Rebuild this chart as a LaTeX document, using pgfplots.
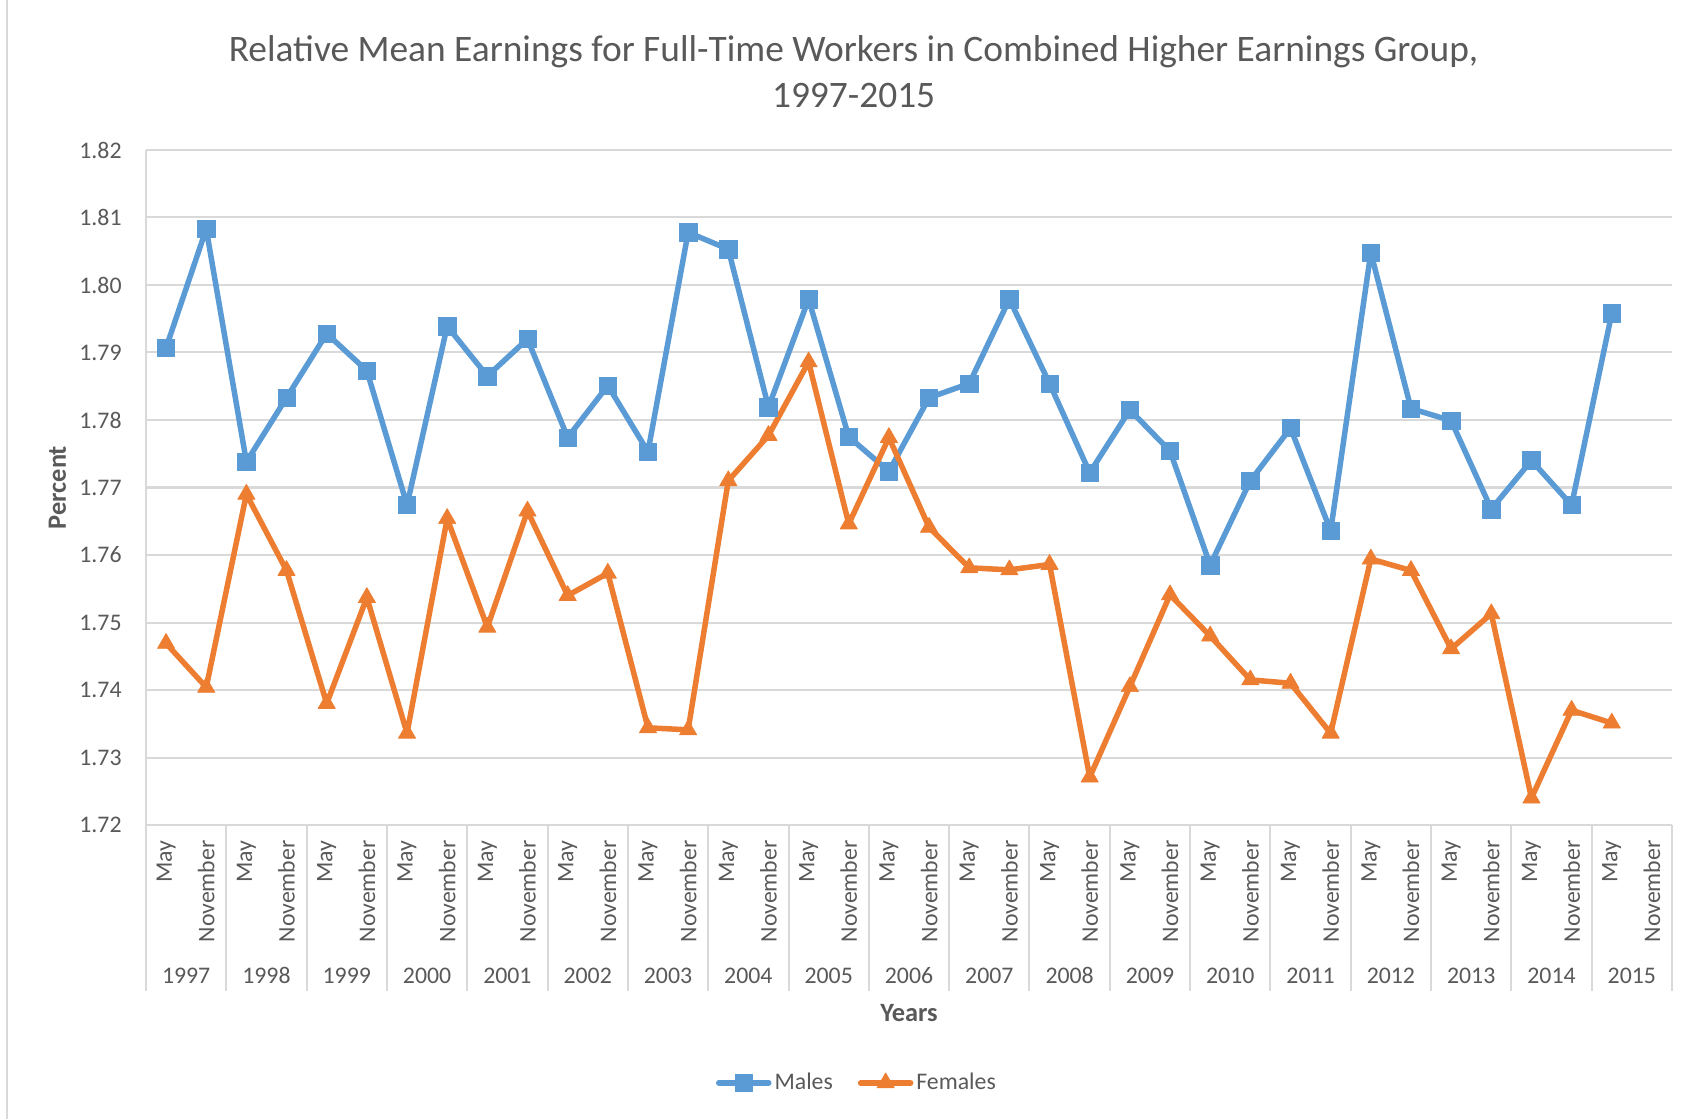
\documentclass[border=0pt]{standalone}
\usepackage{fontspec}
\setmainfont{Carlito}
\usepackage{graphicx}
\usepackage{pgfplots}
\usepackage{pgfplotstable}
\pgfplotsset{compat=1.18}
\definecolor{txt}{HTML}{595959}
\definecolor{grd}{HTML}{D9D9D9}
\definecolor{mblue}{HTML}{5B9BD5}
\definecolor{forange}{HTML}{ED7D31}

\pgfplotstableread{
x m f
0 1.7907 1.7469
1 1.8083 1.7404
2 1.7738 1.7690
3 1.7833 1.7577
4 1.7928 1.7380
5 1.7873 1.7537
6 1.7674 1.7336
7 1.7939 1.7654
8 1.7865 1.7493
9 1.7920 1.7665
10 1.7774 1.7540
11 1.7851 1.7573
12 1.7753 1.7344
13 1.8078 1.7341
14 1.8053 1.7710
15 1.7819 1.7777
16 1.7979 1.7886
17 1.7775 1.7646
18 1.7724 1.7774
19 1.7833 1.7641
20 1.7854 1.7581
21 1.7979 1.7578
22 1.7854 1.7586
23 1.7722 1.7271
24 1.7815 1.7405
25 1.7754 1.7541
26 1.7585 1.7480
27 1.7710 1.7415
28 1.7788 1.7410
29 1.7636 1.7336
30 1.8048 1.7594
31 1.7817 1.7577
32 1.7799 1.7461
33 1.7668 1.7513
34 1.7740 1.7240
35 1.7674 1.7370
36 1.7958 1.7351
}\data

\newcommand{\rl}[1]{\rotatebox{90}{#1}}

\begin{document}
\begin{tikzpicture}
\path[use as bounding box] (-73pt,-147pt) rectangle (774.5pt,412.5pt);
\begin{axis}[
  scale only axis, width=763pt, height=337.5pt,
  xmin=-0.5, xmax=37.5, ymin=1.72, ymax=1.82,
  axis x line*=bottom, axis y line*=left,
  axis line style={grd, line width=1pt},
  tick align=outside,
  major tick length=0pt,
  minor tick length=83pt,
  minor tick style={grd, line width=1pt},
  ytick={1.72,1.73,1.74,1.75,1.76,1.77,1.78,1.79,1.80,1.81,1.82},
  yticklabel style={/pgf/number format/.cd, fixed, fixed zerofill, precision=2, /tikz/.cd,
     anchor=east, inner sep=0pt, xshift=-12pt, font=\fontsize{11.9}{14}\selectfont, text=txt},
  /pgf/number format/assume math mode=true,
  ymajorgrids, grid style={grd, line width=1pt},
  xtick={0,...,37},
  xticklabels={\rl{May},\rl{November},\rl{May},\rl{November},\rl{May},\rl{November},\rl{May},\rl{November},
    \rl{May},\rl{November},\rl{May},\rl{November},\rl{May},\rl{November},\rl{May},\rl{November},
    \rl{May},\rl{November},\rl{May},\rl{November},\rl{May},\rl{November},\rl{May},\rl{November},
    \rl{May},\rl{November},\rl{May},\rl{November},\rl{May},\rl{November},\rl{May},\rl{November},
    \rl{May},\rl{November},\rl{May},\rl{November},\rl{May},\rl{November}},
  xticklabel style={anchor=north, inner sep=0pt, yshift=-7.5pt, font=\fontsize{11.9}{14}\selectfont, text=txt},
  minor xtick={-0.5,1.5,...,37.5},
  extra x ticks={0.5,2.5,...,36.5},
  extra x tick labels={1997,1998,1999,2000,2001,2002,2003,2004,2005,2006,2007,2008,2009,2010,2011,2012,2013,2014,2015},
  extra x tick style={major tick length=0pt, xticklabel style={yshift=-64pt, text height=7.6pt, text depth=0pt}},
  ylabel={Percent},
  ylabel style={at={(axis description cs:-0.058,0.5)}, anchor=center, font=\bfseries\fontsize{13.2}{15}\selectfont, text=txt},
  xlabel={Years},
  xlabel style={at={(axis description cs:0.5,-0.2785)}, anchor=center, font=\bfseries\fontsize{13.2}{15}\selectfont, text=txt},
  title={Relative Mean Earnings for Full-Time Workers in Combined Higher Earnings Group,\\1997-2015},
  title style={at={(0.4637,1)}, anchor=south, yshift=15pt, align=center, inner sep=0pt,
     font=\fontsize{18.7}{23}\selectfont, text=txt},
  legend style={at={(0.4662,-0.382)}, anchor=center, draw=none, fill=none,
     legend columns=2, font=\fontsize{11.9}{14}\selectfont, text=txt,
     nodes={inner sep=1.5pt},
     /tikz/every even column/.append style={column sep=11pt}},
  legend image code/.code={\draw[mark repeat=2,mark phase=2,#1,line cap=round] plot coordinates {(0pt,0pt)(12.5pt,0pt)(25pt,0pt)};},
  clip=false,
]
\addplot[mblue, line width=2.75pt, line join=round, mark=square*, mark size=4.35pt,
  mark options={solid, line width=0.3pt, fill=mblue}] table[x=x, y=m] {\data};
\addlegendentry{Males}
\addplot[forange, line width=2.75pt, line join=round, mark=triangle*, mark size=5pt,
  mark options={solid, line width=0.3pt, fill=forange}] table[x=x, y=f] {\data};
\addlegendentry{Females}
\end{axis}
\draw[grd, line width=1pt] (-69.5pt,-147pt) -- (-69.5pt,412.5pt);
\end{tikzpicture}
\end{document}
